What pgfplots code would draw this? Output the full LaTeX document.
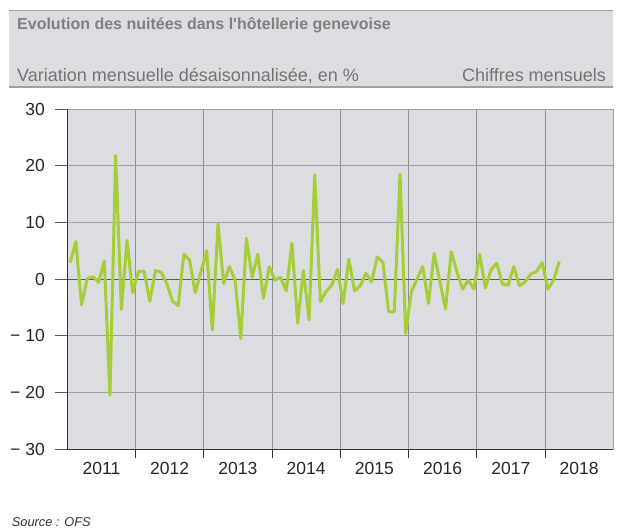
\documentclass[border=0pt]{standalone}
\usepackage{pgfplots}
\pgfplotsset{compat=1.18}
\usepackage{fontspec}
\setmainfont{Liberation Sans}[Ligatures=TeXOff]
\definecolor{bgc}{RGB}{220,221,224}
\definecolor{linec}{RGB}{166,206,57}
\definecolor{gridc}{RGB}{160,160,162}
\definecolor{titlec}{RGB}{128,128,128}
\definecolor{axisc}{RGB}{50,50,50}
\begin{document}
\begin{tikzpicture}[x=1pt,y=1pt]
\path[use as bounding box] (0,0) rectangle (619,531);
% header box
\fill[bgc] (9.3,444) rectangle (613.3,520.3);
\draw[gridc,line width=1.3pt] (9.3,520.3) -- (613.3,520.3);
\draw[gridc,line width=1.3pt] (9.3,444) -- (613.3,444);
\node[anchor=base west,inner sep=0pt,text=titlec,font=\fontsize{16}{19}\selectfont\bfseries] at (17,501) {Evolution des nuitées dans l'hôtellerie genevoise};
\node[anchor=base west,inner sep=0pt,text=titlec!90!black,font=\fontsize{18}{21}\selectfont] at (17,449.5) {Variation mensuelle désaisonnalisée, en \%};
\node[anchor=base east,inner sep=0pt,text=titlec!90!black,font=\fontsize{18}{21}\selectfont] at (606,449.5) {Chiffres mensuels};
\node[anchor=base west,inner sep=0pt,text=axisc,font=\fontsize{12.8}{15}\selectfont\itshape] at (11.7,4.3) {Source : OFS};
\begin{axis}[
  anchor=south west, at={(67.3pt,82pt)},
  width=546pt, height=340pt, scale only axis,
  xmin=0, xmax=96, ymin=-30, ymax=30,
  axis background/.style={fill=bgc},
  axis line style={draw=gridc, line width=0.8pt},
  xtick={6,18,30,42,54,66,78,90},
  xticklabels={2011,2012,2013,2014,2015,2016,2017,2018},
  minor xtick={12,24,36,48,60,72,84},
  xminorgrids,
  minor grid style={draw=gridc!90!black, line width=0.9pt},
  major x tick style={draw=none},
  minor x tick style={draw=axisc, line width=0.8pt},
  minor tick length=9pt,
  major tick length=12pt,
  tick align=outside,
  ytick={-30,-20,-10,0,10,20,30},
  yticklabels={− 30,− 20,− 10,0,10,20,30},
  major y tick style={draw=axisc!80, line width=0.8pt},
  ymajorgrids,
  major grid style={draw=gridc, line width=0.9pt},
  xtick pos=bottom, ytick pos=left,
  ticklabel style={font=\fontsize{17.5}{20}\selectfont, text=black!85},
  yticklabel style={xshift=-7pt},
  xticklabel style={yshift=2pt},
  clip=false,
]
\draw[axisc!80, line width=1pt] (axis cs:0,0) -- (axis cs:96,0);
\draw[axisc, line width=0.9pt] (axis cs:0,-30) -- (axis cs:0,30);
\draw[axisc, line width=0.9pt] (axis cs:0,-30) -- (axis cs:96,-30);
\draw[axisc, line width=0.8pt] (axis cs:0,-30) -- ++(0,-9pt);
\draw[gridc, line width=0.8pt] (axis cs:96,-30) -- ++(0,-9pt);
\addplot[color=linec, line width=3pt, line join=round, mark=none] coordinates {
(0.5,2.9) (1.5,6.6) (2.5,-4.6) (3.5,0.1) (4.5,0.4) (5.5,-0.6) (6.5,3.2) (7.5,-20.5) (8.5,21.8) (9.5,-5.4) (10.5,6.8) (11.5,-2.4)
(12.5,1.3) (13.5,1.4) (14.5,-3.9) (15.5,1.5) (16.5,1.2) (17.5,-0.8) (18.5,-3.9) (19.5,-4.7) (20.5,4.4) (21.5,3.3) (22.5,-2.4) (23.5,1.3)
(24.5,5.0) (25.5,-9.0) (26.5,9.7) (27.5,-0.8) (28.5,2.2) (29.5,-0.2) (30.5,-10.5) (31.5,7.2) (32.5,0.3) (33.5,4.4) (34.5,-3.4) (35.5,2.2)
(36.5,-0.2) (37.5,0.3) (38.5,-2.1) (39.5,6.3) (40.5,-7.8) (41.5,1.5) (42.5,-7.2) (43.5,18.4) (44.5,-4.0) (45.5,-2.2) (46.5,-1.1) (47.5,1.7)
(48.5,-4.3) (49.5,3.5) (50.5,-2.1) (51.5,-1.2) (52.5,1.0) (53.5,-0.5) (54.5,3.9) (55.5,2.9) (56.5,-5.8) (57.5,-5.8) (58.5,18.5) (59.5,-9.6)
(60.5,-2.2) (61.5,0.0) (62.5,2.2) (63.5,-4.3) (64.5,4.5) (65.5,-0.4) (66.5,-5.3) (67.5,4.8) (68.5,1.3) (69.5,-1.8) (70.5,-0.2) (71.5,-1.8)
(72.5,4.4) (73.5,-1.6) (74.5,1.6) (75.5,2.8) (76.5,-0.9) (77.5,-1.1) (78.5,2.2) (79.5,-1.2) (80.5,-0.5) (81.5,0.9) (82.5,1.3) (83.5,2.9)
(84.5,-1.8) (85.5,-0.2) (86.5,3.1)
};
\end{axis}
\end{tikzpicture}
\end{document}
